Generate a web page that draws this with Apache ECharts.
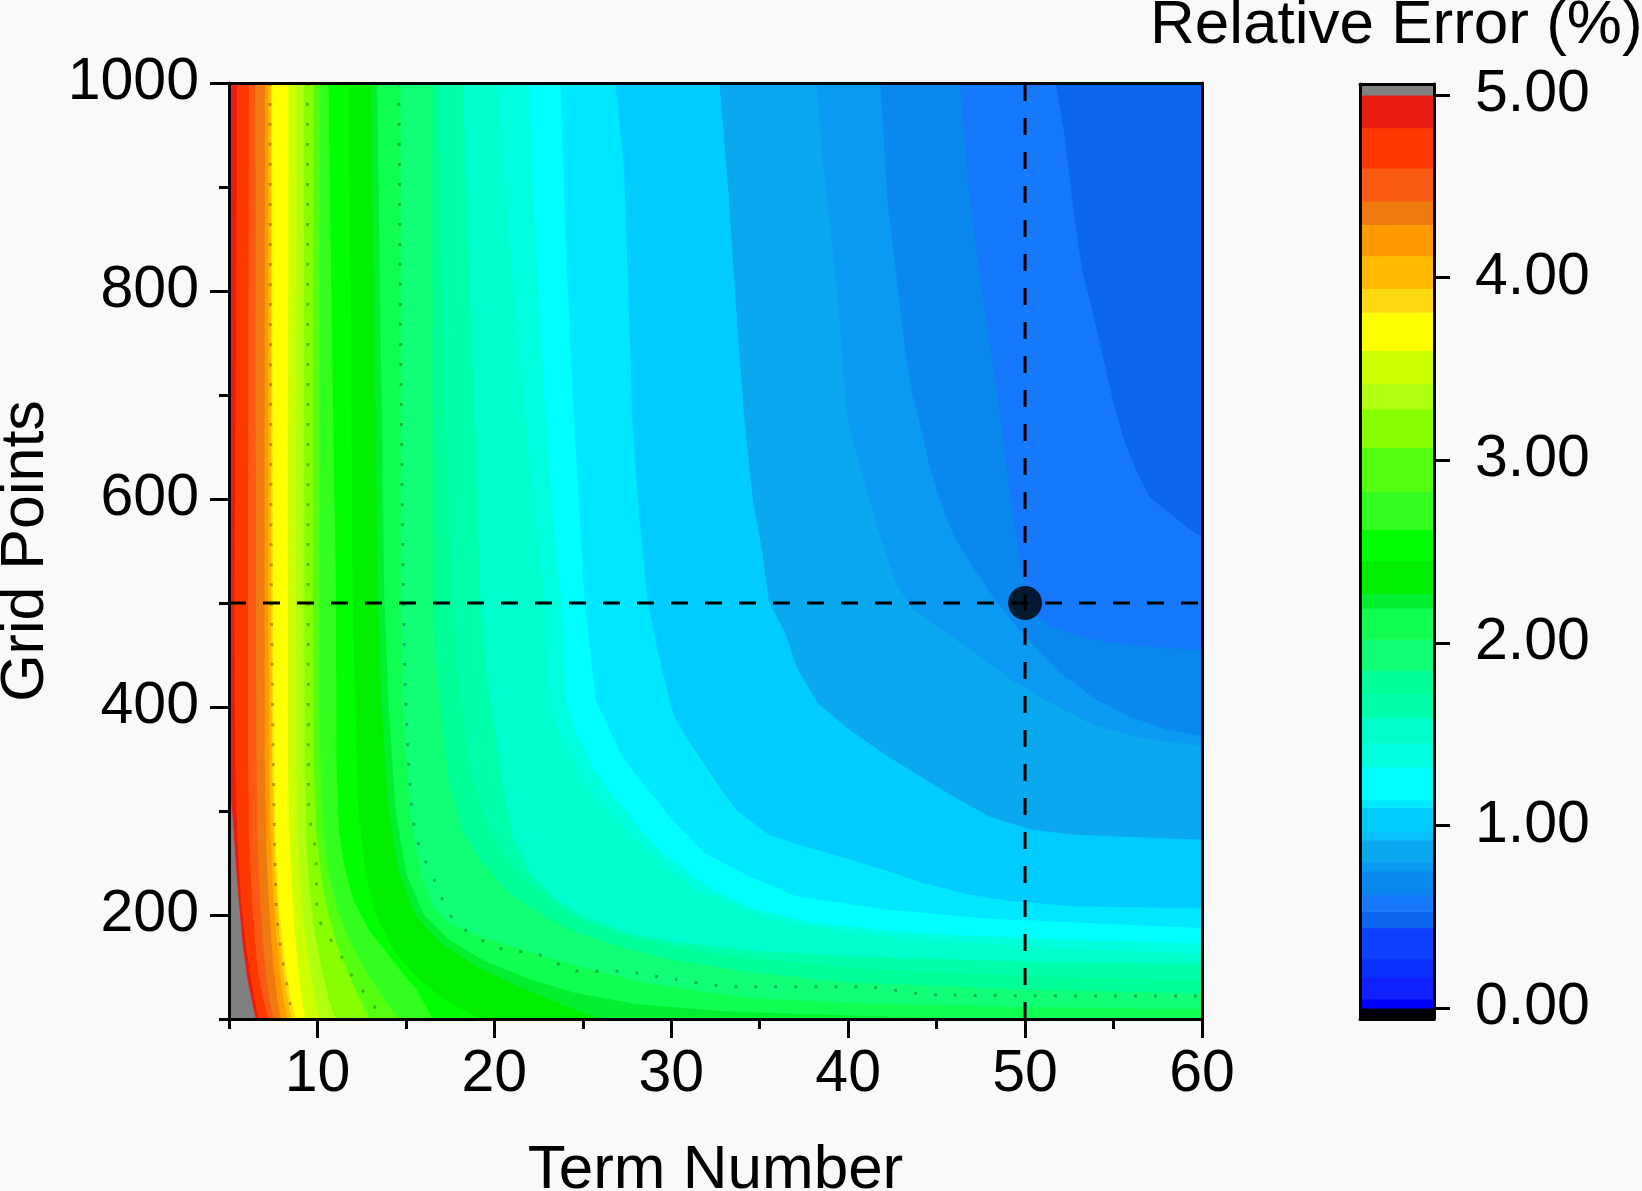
<!DOCTYPE html>
<html><head><meta charset="utf-8">
<script src="https://cdn.jsdelivr.net/npm/echarts@6/dist/echarts.min.js"></script>
<style>html,body{margin:0;padding:0;background:#f9f9f9}#c{width:1642px;height:1191px}</style>
</head><body><div id="c"></div>
<script>
// ---------- data ----------
const xRange = [5, 60];
const yRange = [100, 1000];
const xTicks = [10, 20, 30, 40, 50, 60];
const xMinorTicks = [5, 15, 25, 35, 45, 55];
const yTicks = [200, 400, 600, 800, 1000];
const yMinorTicks = [100, 300, 500, 700, 900];
const cbTicks = [0, 1, 2, 3, 4, 5];
const cbRange = [-0.06, 5.06];

// colour-level lower bounds (%); band i spans levels[i] .. levels[i+1]
const levels = [0.00,0.05,0.17,0.27,0.44,0.53,0.62,0.75,0.80,0.92,0.97,1.10,1.14,1.32,1.45,1.59,1.72,1.85,2.02,2.19,2.27,2.45,2.62,2.83,3.07,3.28,3.42,3.60,3.81,3.94,4.12,4.29,4.42,4.60,4.82,5.00];
const bandColors = ['#0000ff','#1020ff','#0a30ff','#1040ff','#0a66ee','#1679fc','#0a88ee','#0a9af2','#0aa8ee','#0ac0ff','#00ccff','#00e8ff','#00ffff','#00ffdd','#00ffcc','#00ffaa','#00ff99','#11ff77','#11ff50','#00f030','#00ee00','#00ff00','#33ff20','#55ff10','#88ff00','#b0ff10','#ccff00','#ffff00','#ffd814','#ffbb00','#ff9a00','#ee7a10','#fb5a14','#ff3800','#e81c10'];
const aboveColor = '#808080';
const belowColor = '#000000';

// contour lines (Term Number, Grid Points): value >= level on the left/lower side
const contourLevels = [0.44,0.53,0.62,0.75,0.80,0.97,1.10,1.14,1.32,1.45,1.59,1.72,1.85,2.02,2.19,2.27,2.45,2.62,2.83,3.07,3.28,3.42,3.60,3.81,3.94,4.12,4.29,4.42,4.60,4.82,5.00];
const contourPoints = [
  [[60,1000]],
  [[51.7,1000],[52.2,950],[52.7,880],[53.2,820],[53.8,780],[54.4,735],[55.0,690],[55.6,655],[56.3,626],[57.0,602],[58.1,587],[59.1,573],[60,563]],
  [[46.3,1000],[46.8,900],[47.3,830],[47.9,760],[48.5,690],[49.0,620],[49.5,560],[50,506],[50.6,488],[51.5,477],[53,468],[55,461],[57.5,457],[60,454]],
  [[41.8,1000],[42.2,885],[42.7,816],[43.2,742],[43.6,701],[44.1,667],[44.6,630],[45.2,597],[45.9,566],[46.9,538],[48.0,510],[49.2,483],[50.5,458],[52,432],[54,407],[56,390],[58,378],[60,372]],
  [[38.2,1000],[38.5,931],[39.0,856],[39.5,770],[39.9,679],[40.8,621],[41.8,564],[42.7,518],[43.6,495],[45.2,475],[46.9,455],[49.2,426],[51.5,403],[53.8,383],[56.5,370],[60,362]],
  [[32.7,1000],[33.2,897],[33.7,770],[34.1,679],[34.6,598],[35.1,552],[35.5,501],[36.4,472],[37.1,437],[38.3,403],[39.9,380],[41.8,357],[43.4,340],[45.5,318],[48.0,294],[50.3,282],[52.6,277],[60,272]],
  [[26.8,1000],[27.3,920],[27.8,667],[28.2,575],[28.7,495],[29.2,455],[29.6,426],[30.1,392],[30.9,369],[31.8,346],[32.7,323],[33.7,300],[35.5,277],[37.6,265],[39.9,254],[42.2,242],[44.1,231],[46.9,219],[49.2,213],[52.6,208],[60,206]],
  [[23.7,1000],[24.0,850],[24.4,700],[24.8,580],[25.07,503],[25.7,407],[27.2,352],[28.55,323],[30.06,291],[31.9,259],[34.4,237],[37,218],[42,205],[48,196],[60,187]],
  [[21.9,1000],[22.3,850],[22.8,700],[23.3,580],[23.75,503],[24.03,407],[24.6,375],[25.5,343],[26.3,323],[27.2,304],[28.4,279],[29.5,259],[31,240],[32.3,224],[34.4,207],[38,192],[44,182],[52,176],[60,172]],
  [[20.15,1000],[20.8,850],[21.6,700],[22.3,580],[22.8,503],[23.0,420],[23.5,380],[24.3,350],[25.5,318],[26.8,293],[28,272],[29.5,250],[31,228],[33,212],[36,194],[40,183],[46,174],[53,167],[60,162]],
  [[18.2,1000],[18.5,850],[18.8,700],[19.2,503],[19.6,420],[20.1,370],[20.5,320],[21.0,275],[22,240],[23.5,215],[25,198],[27.6,182],[30,174],[34,166],[40,160],[50,155],[60,152]],
  [[16.9,1000],[17.1,750],[17.6,503],[18.0,420],[18.6,340],[19.5,290],[20.5,258],[22,230],[23.5,208],[25.5,190],[28,177],[31,166],[35,157],[41,148],[50,141],[60,137]],
  [[16.5,1000],[16.5,750],[16.5,503],[16.8,420],[17.4,330],[18.2,280],[19.3,250],[21,218],[22.9,198],[24.8,182],[27.4,168],[30,157],[34.4,145],[40,135],[50,128],[60,124]],
  [[14.67,1000],[14.7,503],[14.8,400],[15.2,300],[15.8,240],[16.6,205],[17.6,190],[19.3,178],[22,164],[24.8,150],[28.6,134],[34.4,120],[40,115],[50,111],[60,109]],
  [[13.35,1000],[13.76,503],[14.0,400],[14.4,300],[15,240],[16,200],[17.5,175],[19.5,155],[22,138],[24.5,125],[28,114],[33,107],[40,103],[47,100]],
  [[13.0,1000],[13.4,503],[13.6,400],[14.0,300],[14.6,240],[15.5,200],[17,172],[19,150],[21.5,130],[24,112],[26,100]],
  [[11.75,1000],[11.97,503],[12.1,400],[12.3,300],[12.7,240],[13.3,200],[14.3,165],[15.6,140],[17.2,118],[19.1,100]],
  [[10.6,1000],[10.8,750],[11.03,503],[11.05,350],[11.2,280],[11.5,247],[12,215],[12.9,185],[13.8,166],[14.6,148],[15.6,128],[16.5,100]],
  [[10.1,1000],[10.1,503],[10.15,350],[10.3,280],[10.6,240],[11.1,205],[11.8,175],[12.6,150],[13.5,125],[14.6,100]],
  [[9.77,1000],[9.71,503],[9.75,350],[9.9,280],[10.2,235],[10.6,200],[11.1,170],[11.7,145],[12.3,122],[12.9,100]],
  [[9.2,1000],[9.24,503],[9.25,350],[9.35,270],[9.55,220],[9.85,180],[10.2,150],[10.6,120],[11.0,100]],
  [[8.83,1000],[8.77,503],[8.78,350],[8.88,270],[9.05,220],[9.3,180],[9.6,145],[9.85,120],[10.1,100]],
  [[8.35,1000],[8.3,503],[8.3,350],[8.4,270],[8.55,220],[8.75,175],[8.95,140],[9.15,115],[9.3,100]],
  [[7.41,1000],[7.45,503],[7.5,350],[7.6,270],[7.75,220],[7.95,180],[8.2,145],[8.45,120],[8.73,100]],
  [[7.33,1000],[7.35,503],[7.4,350],[7.5,270],[7.64,220],[7.83,180],[8.05,145],[8.28,120],[8.5,100]],
  [[7.2,1000],[7.2,503],[7.25,350],[7.34,270],[7.47,220],[7.65,180],[7.85,145],[8.05,120],[8.26,100]],
  [[7.0,1000],[6.98,503],[7.0,350],[7.08,270],[7.2,220],[7.35,180],[7.52,145],[7.7,120],[7.9,100]],
  [[6.47,1000],[6.5,503],[6.53,350],[6.6,270],[6.72,220],[6.88,180],[7.05,145],[7.25,120],[7.5,100]],
  [[6.1,1000],[6.04,503],[6.05,350],[6.12,270],[6.25,220],[6.42,180],[6.62,145],[6.9,120],[7.22,100]],
  [[5.43,1000],[5.35,700],[5.28,503],[5.32,350],[5.45,270],[5.65,215],[5.9,175],[6.15,145],[6.4,120],[6.65,100]],
  [[5,330],[5.2,290],[5.4,240],[5.6,200],[5.75,172],[6.0,140],[6.3,115],[6.5,100]]
];

// dotted iso-lines visible in the picture (about 4 %, 3 %, 2 %)
const dotted4 = [[7.32,1000],[7.35,700],[7.4,503],[7.55,300],[7.7,200],[8.0,160],[8.3,130],[8.5,110]];
const dotted3 = [[9.43,1000],[9.48,503],[9.5,304],[9.9,260],[10.0,202],[10.5,182],[11.1,168],[12,140],[13.1,115],[13.6,100]];
const dotted2 = [[14.6,1000],[14.9,461],[15.3,307],[15.7,269],[16.7,230],[17.5,200],[18.5,184],[20.3,168],[22.5,162],[24.8,146],[27,146],[30.2,138],[33.8,131],[40.7,131],[45,123],[60,122]];

// selected point
const selected = [50, 500];

// ---------- chart ----------
const FONT = 'Liberation Sans, Arial, Helvetica, sans-serif';
const chart = echarts.init(document.getElementById('c'), null, {width: 1642, height: 1191});

const pieces = [{lt: levels[0], color: belowColor}];
for (let i = 0; i < bandColors.length; i++) pieces.push({gte: levels[i], lt: levels[i + 1], color: bandColors[i]});
pieces.push({gte: levels[levels.length - 1], color: aboveColor});

const contourData = contourLevels.map((l, i) => [xRange[0], yRange[0], l, i]);
const cbData = [[0, cbRange[0], cbRange[0], 0]];
for (let i = 0; i < bandColors.length; i++) cbData.push([0, levels[i], levels[i], levels[i + 1]]);
cbData.push([0, levels[levels.length - 1], levels[levels.length - 1], cbRange[1]]);

function renderContour(params, api) {
  const pts = contourPoints[api.value(3)];
  const last = pts[pts.length - 1];
  const poly = [[xRange[0], yRange[1]]].concat(pts, [[last[0], yRange[0]], [xRange[0], yRange[0]]]).map(p => api.coord(p));
  const c = api.visual('color');
  return {type: 'polygon', shape: {points: poly}, style: {fill: c, stroke: c, lineWidth: 0.8}};
}
function renderBar(params, api) {
  const p0 = api.coord([0, api.value(3)]);
  const p1 = api.coord([1, api.value(1)]);
  const c = api.visual('color');
  return {type: 'rect', shape: {x: p0[0], y: p0[1], width: p1[0] - p0[0], height: p1[1] - p0[1] + 0.5}, style: {fill: c}};
}

const black = '#000';
const lineOnly = (extra) => Object.assign({
  axisLine: {show: true, onZero: false, lineStyle: {color: black, width: 3}},
  axisTick: {show: false}, axisLabel: {show: false}, splitLine: {show: false}, z: 10
}, extra);

const labelStyle = {fontSize: 59, color: black, fontFamily: FONT};

const option = {
  backgroundColor: '#f9f9f9',
  animation: false,
  title: {text: 'Relative Error (%)', left: 1150, top: -5, padding: 0,
    textStyle: {fontSize: 62, fontWeight: 'normal', color: black, fontFamily: FONT}},
  grid: [
    {left: 229, top: 83, width: 973, height: 936, containLabel: false, outerBoundsMode: 'none'},
    {left: 1360, top: 84, width: 74, height: 935, containLabel: false, outerBoundsMode: 'none'}
  ],
  visualMap: {type: 'piecewise', show: false, dimension: 2, seriesIndex: [0, 1], pieces: pieces},
  xAxis: [
    lineOnly({type: 'value', gridIndex: 0, min: xRange[0], max: xRange[1], position: 'bottom',
      axisTick: {show: true, length: 19, lineStyle: {color: black, width: 3}, customValues: xTicks},
      axisLabel: Object.assign({show: true, margin: 26, customValues: xTicks, formatter: v => String(v)}, labelStyle),
      name: 'Term Number', nameLocation: 'middle', nameGap: 121,
      nameTextStyle: {fontSize: 62, color: black, fontFamily: FONT}}),
    lineOnly({type: 'value', gridIndex: 0, min: xRange[0], max: xRange[1], position: 'bottom',
      axisLine: {show: false, onZero: false},
      axisTick: {show: true, length: 10, lineStyle: {color: black, width: 3}, customValues: xMinorTicks}}),
    lineOnly({type: 'value', gridIndex: 0, min: xRange[0], max: xRange[1], position: 'top'}),
    lineOnly({type: 'value', gridIndex: 1, min: 0, max: 1, position: 'bottom'}),
    lineOnly({type: 'value', gridIndex: 1, min: 0, max: 1, position: 'top'})
  ],
  yAxis: [
    lineOnly({type: 'value', gridIndex: 0, min: yRange[0], max: yRange[1], position: 'left',
      axisTick: {show: true, length: 19, lineStyle: {color: black, width: 3}, customValues: yTicks},
      axisLabel: Object.assign({show: true, margin: 30, customValues: yTicks, formatter: v => String(v)}, labelStyle),
      name: 'Grid Points', nameLocation: 'middle', nameGap: 171, nameRotate: 90,
      nameTextStyle: {fontSize: 61, color: black, fontFamily: FONT}}),
    lineOnly({type: 'value', gridIndex: 0, min: yRange[0], max: yRange[1], position: 'left',
      axisLine: {show: false, onZero: false},
      axisTick: {show: true, length: 10, lineStyle: {color: black, width: 3}, customValues: yMinorTicks}}),
    lineOnly({type: 'value', gridIndex: 0, min: yRange[0], max: yRange[1], position: 'right'}),
    lineOnly({type: 'value', gridIndex: 1, min: cbRange[0], max: cbRange[1], position: 'right',
      axisTick: {show: true, inside: false, length: 16, lineStyle: {color: black, width: 3}, customValues: cbTicks},
      axisLabel: Object.assign({show: true, margin: 41, customValues: cbTicks,
        formatter: v => Number(v).toFixed(2)}, labelStyle)}),
    lineOnly({type: 'value', gridIndex: 1, min: cbRange[0], max: cbRange[1], position: 'left'})
  ],
  series: [
    {type: 'custom', name: 'contours', xAxisIndex: 0, yAxisIndex: 0, coordinateSystem: 'cartesian2d',
      data: contourData, encode: {x: 0, y: 1}, renderItem: renderContour, z: 1, clip: true, silent: true},
    {type: 'custom', name: 'colorbar', xAxisIndex: 3, yAxisIndex: 3, coordinateSystem: 'cartesian2d',
      data: cbData, encode: {x: 0, y: 1}, renderItem: renderBar, z: 1, silent: true},
    ...[dotted4, dotted3, dotted2].map(d => ({type: 'line', xAxisIndex: 0, yAxisIndex: 0, data: d,
      symbol: 'none', silent: true, z: 3, smooth: 0.3,
      lineStyle: {color: 'rgba(0,0,0,0.28)', width: 3, type: [3, 17]}})),
    {type: 'line', xAxisIndex: 0, yAxisIndex: 0, symbol: 'none', silent: true, z: 4,
      data: [[xRange[0], selected[1]], [xRange[1], selected[1]]],
      lineStyle: {color: black, width: 3, type: [17, 17]}},
    {type: 'line', xAxisIndex: 0, yAxisIndex: 0, symbol: 'none', silent: true, z: 4,
      data: [[selected[0], yRange[0]], [selected[0], yRange[1]]],
      lineStyle: {color: black, width: 3, type: [17, 17]}},
    {type: 'scatter', xAxisIndex: 0, yAxisIndex: 0, data: [selected], symbolSize: 34,
      itemStyle: {color: black}, z: 5, silent: true}
  ]
};
chart.setOption(option);
</script>
</body></html>
